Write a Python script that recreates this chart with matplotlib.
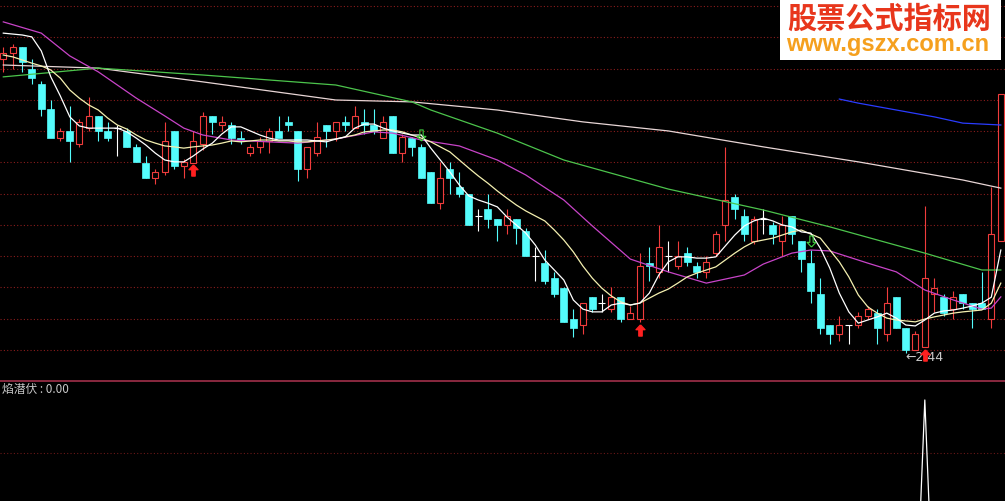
import numpy as np
import matplotlib
matplotlib.use("Agg")
import matplotlib.pyplot as plt
import matplotlib.transforms as mtransforms
from matplotlib.path import Path
from matplotlib.patches import Rectangle

plt.rcParams['font.family'] = ['Noto Sans CJK SC', 'DejaVu Sans']

# 日K数据: 开 收 高 低
opens = [3.38, 3.40, 3.42, 3.35, 3.30, 3.22, 3.13, 3.15, 3.11, 3.16,
         3.20, 3.15, 3.16, 3.15, 3.10, 3.05, 3.00, 3.02, 3.15, 3.04,
         3.05, 3.11, 3.20, 3.17, 3.17, 3.13, 3.08, 3.10, 3.12, 3.15,
         3.18, 3.15, 3.03, 3.08, 3.17, 3.15, 3.18, 3.16, 3.18, 3.17,
         3.13, 3.20, 3.08, 3.13, 3.10, 3.02, 2.92, 3.03, 2.97, 2.95,
         2.88, 2.90, 2.87, 2.85, 2.87, 2.83, 2.75, 2.73, 2.68, 2.65,
         2.55, 2.53, 2.62, 2.60, 2.58, 2.62, 2.55, 2.55, 2.73, 2.70,
         2.75, 2.72, 2.76, 2.72, 2.70, 2.76, 2.85, 2.94, 2.88, 2.80,
         2.87, 2.85, 2.80, 2.88, 2.80, 2.73, 2.63, 2.53, 2.50, 2.53,
         2.53, 2.56, 2.57, 2.50, 2.62, 2.52, 2.45, 2.46, 2.63, 2.62,
         2.58, 2.63, 2.60, 2.60, 2.55, 2.80]
closes = [3.40, 3.42, 3.37, 3.32, 3.22, 3.13, 3.15, 3.12, 3.18, 3.20,
          3.15, 3.13, 3.16, 3.10, 3.05, 3.00, 3.02, 3.12, 3.04, 3.05,
          3.12, 3.20, 3.18, 3.18, 3.13, 3.12, 3.10, 3.12, 3.15, 3.13,
          3.17, 3.03, 3.10, 3.13, 3.15, 3.18, 3.17, 3.20, 3.17, 3.15,
          3.18, 3.08, 3.13, 3.10, 3.00, 2.92, 3.00, 3.00, 2.95, 2.85,
          2.88, 2.87, 2.85, 2.88, 2.84, 2.75, 2.75, 2.67, 2.63, 2.54,
          2.52, 2.60, 2.58, 2.60, 2.62, 2.55, 2.57, 2.72, 2.72, 2.78,
          2.75, 2.75, 2.73, 2.70, 2.73, 2.82, 2.93, 2.90, 2.82, 2.87,
          2.87, 2.82, 2.85, 2.82, 2.74, 2.64, 2.52, 2.50, 2.53, 2.53,
          2.56, 2.58, 2.52, 2.60, 2.52, 2.45, 2.50, 2.68, 2.65, 2.57,
          2.62, 2.60, 2.58, 2.58, 2.82, 3.27]
highs = [3.42, 3.43, 3.42, 3.38, 3.31, 3.25, 3.16, 3.23, 3.19, 3.26,
         3.20, 3.18, 3.17, 3.16, 3.11, 3.07, 3.03, 3.18, 3.15, 3.06,
         3.15, 3.21, 3.20, 3.20, 3.18, 3.15, 3.11, 3.13, 3.16, 3.20,
         3.20, 3.15, 3.10, 3.18, 3.17, 3.18, 3.20, 3.23, 3.22, 3.22,
         3.20, 3.20, 3.14, 3.13, 3.11, 3.02, 3.05, 3.05, 3.02, 2.95,
         2.90, 2.95, 2.87, 2.90, 2.87, 2.84, 2.78, 2.77, 2.70, 2.65,
         2.58, 2.60, 2.62, 2.63, 2.65, 2.62, 2.59, 2.76, 2.78, 2.85,
         2.80, 2.80, 2.78, 2.73, 2.75, 2.83, 3.10, 2.95, 2.90, 2.88,
         2.90, 2.86, 2.88, 2.88, 2.80, 2.77, 2.68, 2.53, 2.56, 2.53,
         2.57, 2.59, 2.58, 2.65, 2.62, 2.52, 2.51, 2.91, 2.68, 2.63,
         2.64, 2.63, 2.60, 2.70, 2.97, 3.27]
lows = [3.34, 3.35, 3.34, 3.30, 3.20, 3.13, 3.12, 3.05, 3.10, 3.15,
        3.12, 3.12, 3.07, 3.10, 3.05, 3.00, 2.98, 3.01, 3.03, 3.00,
        3.05, 3.09, 3.14, 3.15, 3.11, 3.11, 3.07, 3.08, 3.08, 3.13,
        3.15, 2.99, 3.00, 3.07, 3.10, 3.12, 3.15, 3.16, 3.14, 3.14,
        3.13, 3.08, 3.05, 3.07, 3.00, 2.92, 2.90, 2.95, 2.94, 2.85,
        2.83, 2.84, 2.80, 2.82, 2.79, 2.75, 2.67, 2.66, 2.62, 2.54,
        2.49, 2.50, 2.57, 2.57, 2.57, 2.54, 2.55, 2.54, 2.67, 2.68,
        2.70, 2.71, 2.72, 2.68, 2.68, 2.75, 2.80, 2.87, 2.80, 2.79,
        2.82, 2.79, 2.75, 2.79, 2.70, 2.60, 2.50, 2.47, 2.48, 2.47,
        2.52, 2.55, 2.47, 2.48, 2.52, 2.44, 2.45, 2.46, 2.57, 2.56,
        2.55, 2.58, 2.52, 2.58, 2.52, 2.80]

# 均线
ma5 = [3.464, 3.461, 3.458, 3.452, 3.407, 3.324, 3.263, 3.196, 3.167, 3.160,
       3.160, 3.160, 3.160, 3.148, 3.128, 3.106, 3.080, 3.058, 3.052, 3.052,
       3.071, 3.093, 3.112, 3.141, 3.164, 3.164, 3.151, 3.138, 3.128, 3.122,
       3.122, 3.122, 3.122, 3.119, 3.116, 3.125, 3.132, 3.160, 3.173, 3.173,
       3.160, 3.151, 3.144, 3.138, 3.138, 3.096, 3.058, 3.020, 2.978, 2.943,
       2.930, 2.920, 2.908, 2.876, 2.850, 2.824, 2.786, 2.738, 2.706, 2.674,
       2.610, 2.581, 2.572, 2.572, 2.594, 2.600, 2.594, 2.600, 2.632, 2.690,
       2.732, 2.748, 2.748, 2.744, 2.744, 2.748, 2.783, 2.818, 2.847, 2.863,
       2.872, 2.863, 2.850, 2.844, 2.828, 2.824, 2.776, 2.712, 2.632, 2.572,
       2.536, 2.546, 2.556, 2.568, 2.552, 2.530, 2.527, 2.546, 2.568, 2.575,
       2.578, 2.584, 2.591, 2.600, 2.619, 2.770]
ma10 = [3.394, 3.388, 3.378, 3.368, 3.359, 3.346, 3.320, 3.282, 3.256, 3.234,
        3.218, 3.192, 3.170, 3.157, 3.138, 3.122, 3.112, 3.103, 3.100, 3.096,
        3.100, 3.103, 3.106, 3.112, 3.119, 3.116, 3.119, 3.122, 3.122, 3.119,
        3.119, 3.116, 3.116, 3.119, 3.122, 3.125, 3.132, 3.138, 3.148, 3.151,
        3.154, 3.154, 3.148, 3.138, 3.128, 3.116, 3.100, 3.084, 3.058, 3.032,
        3.007, 2.984, 2.959, 2.936, 2.914, 2.895, 2.879, 2.863, 2.834, 2.802,
        2.764, 2.719, 2.680, 2.648, 2.623, 2.604, 2.594, 2.600, 2.616, 2.632,
        2.645, 2.664, 2.684, 2.696, 2.706, 2.716, 2.738, 2.760, 2.780, 2.796,
        2.802, 2.808, 2.818, 2.828, 2.834, 2.821, 2.808, 2.770, 2.732, 2.684,
        2.626, 2.588, 2.568, 2.552, 2.546, 2.543, 2.540, 2.549, 2.556, 2.562,
        2.568, 2.572, 2.575, 2.578, 2.600, 2.664]
ma20_idx = [0, 4, 7, 10, 14, 17, 19, 21, 24, 28, 31, 35, 39, 41, 44, 48, 52, 55,
            59, 62, 66, 70, 74, 78, 80, 83, 85, 87, 91, 94, 97, 100, 103, 104, 105]
ma20 = [3.500, 3.464, 3.391, 3.340, 3.256, 3.199, 3.160, 3.138, 3.122, 3.116,
        3.112, 3.125, 3.148, 3.144, 3.122, 3.103, 3.058, 3.010, 2.930, 2.847,
        2.741, 2.700, 2.664, 2.690, 2.725, 2.760, 2.770, 2.767, 2.728, 2.700,
        2.642, 2.610, 2.581, 2.584, 2.620]
ma60_idx = [0, 10, 21, 35, 43, 45, 52, 59, 70, 80, 87, 97, 103, 105]
ma60 = [3.324, 3.352, 3.330, 3.298, 3.244, 3.218, 3.144, 3.058, 2.965, 2.898,
        2.844, 2.760, 2.706, 2.706]
ma120_idx = [0, 10, 21, 35, 43, 52, 61, 70, 80, 90, 101, 105]
ma120 = [3.362, 3.352, 3.308, 3.250, 3.244, 3.218, 3.180, 3.151, 3.100, 3.052,
         2.994, 2.968]
ma250_idx = [88, 90, 94, 98, 101, 105]
ma250 = [3.253, 3.240, 3.218, 3.196, 3.176, 3.170]

buy_idx = [20, 67, 97]
sell_idx = [44, 85]

# 副图 焰潜伏
yan_qianfu = [0.0] * 97 + [1.0] + [0.0] * 8

RED = '#f03c3c'
CYAN = '#54fcfc'
GRID = '#8a1c1c'

n = len(closes)
x = np.arange(n)
o = np.array(opens)
c = np.array(closes)
h = np.array(highs)
l = np.array(lows)
up = c > o
dn = c < o
flat = c == o

fig = plt.figure(figsize=(10.05, 5.01), dpi=100, facecolor='black')
ax = fig.add_axes([0, 121 / 501, 1, 380 / 501])
ax2 = fig.add_axes([0, 0, 1, 120 / 501])
for a in (ax, ax2):
    a.set_facecolor('black')
    a.set_xticks([])
    a.set_yticks([])
    for s in a.spines.values():
        s.set_visible(False)
    a.set_xlim(-0.347, 105.44)

ax.set_ylim(2.354, 3.57)
for p in np.arange(2.45, 3.56, 0.1):
    ax.axhline(p, color=GRID, lw=0.8, ls=(0, (1, 2)), zorder=0)

# K线
ax.vlines(x[up], l[up], h[up], color=RED, lw=0.8, zorder=2)
ax.vlines(x[dn], l[dn], h[dn], color=CYAN, lw=0.8, zorder=2)
ax.vlines(x[flat], l[flat], h[flat], color='white', lw=0.8, zorder=2)
ax.bar(x[up], c[up] - o[up], bottom=o[up], width=0.66, facecolor='black',
       edgecolor=RED, lw=0.8, zorder=3)
ax.bar(x[dn], c[dn] - o[dn], bottom=o[dn], width=0.7, facecolor=CYAN,
       edgecolor=CYAN, lw=0.5, zorder=3)
ax.hlines(c[flat], x[flat] - 0.35, x[flat] + 0.35, color='white', lw=0.8, zorder=3)

# 均线
ax.plot(ma120_idx, ma120, color='#e8d6d6', lw=0.9, zorder=4)
ax.plot(ma60_idx, ma60, color='#4cc44c', lw=0.9, zorder=4)
ax.plot(ma250_idx, ma250, color='#2a3cff', lw=0.9, zorder=4)
ax.plot(ma20_idx, ma20, color='#c844c8', lw=0.9, zorder=4)
ax.plot(x, ma10, color='#f4f0b0', lw=0.9, zorder=4)
ax.plot(x, ma5, color='white', lw=0.9, zorder=4)

# 买卖信号箭头
up_arrow = Path([(0, 1), (0.8, 0.15), (0.3, 0.15), (0.3, -1), (-0.3, -1),
                 (-0.3, 0.15), (-0.8, 0.15), (0, 1)])
dn_arrow = Path([(0, -1), (0.8, -0.15), (0.3, -0.15), (0.3, 1), (-0.3, 1),
                 (-0.3, -0.15), (-0.8, -0.15), (0, -1)])
below = mtransforms.offset_copy(ax.transData, fig=fig, y=-8, units='dots')
above = mtransforms.offset_copy(ax.transData, fig=fig, y=9, units='dots')
bi = np.array(buy_idx)
si = np.array(sell_idx)
ax.plot(bi, l[bi], ls='none', marker=up_arrow, ms=8, color='#ff2020',
        transform=below, zorder=6)
ax.plot(si, h[si], ls='none', marker=dn_arrow, ms=8, mfc='none',
        mec='#40d040', mew=0.8, transform=above, zorder=6)

# 最低价标注
imin = int(np.argmin(l))
ax.annotate(f"←{l[imin]:.2f}", (imin, l[imin]), xytext=(0, -3),
            textcoords='offset points', ha='left', va='center',
            color='#c8c8c8', fontsize=9, family='DejaVu Sans', zorder=5)

# 副图
ax2.set_ylim(0.574, 1.08)
ax2.axhline(0.776, color='#6a1818', lw=0.8, ls=(0, (1, 2)), zorder=0)
ax2.plot(x, yan_qianfu, color='white', lw=0.9)
ax2.spines['top'].set_visible(True)
ax2.spines['top'].set_color('#a0304a')
ax2.spines['top'].set_linewidth(1.2)
ax2.text(2 / 1005, 1 - 2 / 120, f"焰潜伏 : {yan_qianfu[-1]:.2f}",
         transform=ax2.transAxes, ha='left', va='top', fontsize=8.5,
         color='#c8c8c8')

# 水印
fig.add_artist(Rectangle((780 / 1005, 1 - 60 / 501), 221 / 1005, 60 / 501,
                         transform=fig.transFigure, facecolor='white',
                         edgecolor='none', zorder=10))
fig.text(889 / 1005, 1 - 19 / 501, "股票公式指标网", ha='center', va='center',
         color='#e8361c', fontsize=21, fontweight='bold',
         family='Noto Sans CJK SC', zorder=11)
fig.text(888 / 1005, 1 - 45 / 501, "www.gszx.com.cn", ha='center', va='center',
         color='#f5a01e', fontsize=17, fontweight='bold',
         family='Liberation Sans', zorder=11)

fig.savefig('out.png', dpi=100, facecolor='black')
